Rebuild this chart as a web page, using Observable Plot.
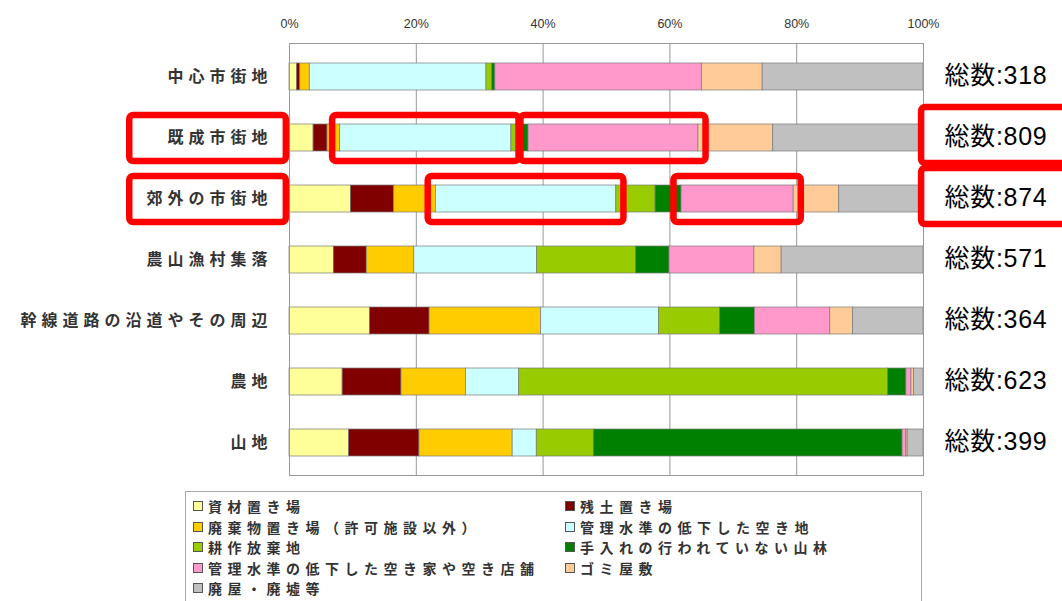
<!DOCTYPE html>
<html><head><meta charset="utf-8">
<script src="https://cdn.jsdelivr.net/npm/d3@7"></script>
<script src="https://cdn.jsdelivr.net/npm/@observablehq/plot@0.6"></script>
<style>
body{margin:0;background:#fff;overflow:hidden;font-family:"Noto Sans CJK JP",sans-serif;}
#wrap{position:relative;width:1062px;height:601px;background:#fff;}
#legend{position:absolute;left:185px;top:491px;width:737px;height:130px;border:1px solid #aaa;box-sizing:border-box;}
.item{position:absolute;font-size:14px;font-weight:bold;color:#333;letter-spacing:5.5px;white-space:nowrap;line-height:16px;height:16px}
.sw{display:inline-block;width:8px;height:8px;border:1px solid #555;margin-right:5px;vertical-align:1px;letter-spacing:0}
</style></head>
<body><div id="wrap"><div id="chart"></div><div id="legend"></div></div>
<script>
const categories = ["中心市街地","既成市街地","郊外の市街地","農山漁村集落","幹線道路の沿道やその周辺","農地","山地"];
const seriesNames = ["資材置き場","残土置き場","廃棄物置き場（許可施設以外）","管理水準の低下した空き地","耕作放棄地","手入れの行われていない山林","管理水準の低下した空き家や空き店舗","ゴミ屋敷","廃屋・廃墟等"];
const seriesColors = ["#FFFF99","#800000","#FFCC00","#CCFFFF","#99CC00","#008000","#FF99CC","#FFCC99","#C0C0C0"];
// percentages per category (same order as categories)
const vShizai   = [1.2, 3.8, 9.7, 7.0, 12.7, 8.4, 9.4];
const vZando    = [0.5, 2.2, 6.8, 5.2, 9.4, 9.3, 11.1];
const vHaiki    = [1.5, 2.0, 6.6, 7.5, 17.6, 10.2, 14.7];
const vAkichi   = [27.9, 27.0, 28.5, 19.4, 18.6, 8.4, 3.8];
const vKousaku  = [0.9, 1.3, 6.2, 15.6, 9.6, 58.3, 9.0];
const vSanrin   = [0.5, 1.4, 4.1, 5.3, 5.5, 2.9, 48.7];
const vAkiya    = [32.6, 26.8, 17.7, 13.4, 11.9, 0.8, 0.6];
const vGomi     = [9.6, 11.8, 7.2, 4.3, 3.6, 0.4, 0.2];
const vHaioku   = [25.4, 23.7, 13.3, 22.4, 11.1, 1.5, 2.5];
const totals = [318, 809, 874, 571, 364, 623, 399];
const tickValues = [0, 0.2, 0.4, 0.6, 0.8, 1];
const highlightCategories = ["既成市街地","郊外の市街地"];
const highlightSeries = ["管理水準の低下した空き地","管理水準の低下した空き家や空き店舗"];

const seriesValues = [vShizai,vZando,vHaiki,vAkichi,vKousaku,vSanrin,vAkiya,vGomi,vHaioku];
const rowSums = categories.map((c,i)=>d3.sum(seriesValues, s=>s[i]));
const rows = [];
categories.forEach((c,i)=>{
  seriesNames.forEach((s,j)=>rows.push({category:c, series:s, value: seriesValues[j][i]/rowSums[i]}));
});
// highlight boxes derived from stacked positions
const pad = 0.012;
const segBoxes = [];
highlightCategories.forEach(c=>{
  const i = categories.indexOf(c);
  let acc = 0;
  seriesNames.forEach((s,j)=>{
    const v = seriesValues[j][i]/rowSums[i];
    if (highlightSeries.includes(s)) segBoxes.push({category:c, x1:acc-pad, x2:acc+v+pad});
    acc += v;
  });
});
const labelBoxes = highlightCategories.map(c=>({category:c, x1:-0.252, x2:-0.005}));
const totalBoxes = highlightCategories.map(c=>({category:c, x1:0.997, x2:1.25}));

const chart = Plot.plot({
  width:1062, height:488,
  marginTop:43, marginBottom:13, marginLeft:289, marginRight:139,
  style:{fontFamily:'"Noto Sans CJK JP", sans-serif', background:"white", overflow:"visible"},
  x:{domain:[0,1], label:null},
  y:{domain:categories, paddingInner:0.56, paddingOuter:0.28, label:null},
  color:{domain:seriesNames, range:seriesColors},
  marks:[
    Plot.gridX(tickValues, {stroke:"#999", strokeOpacity:1}),
    Plot.barX(rows, Plot.stackX({x:"value", y:"category", fill:"series", order:seriesNames, stroke:"#7a7a7a", strokeWidth:0.7})),
    Plot.frame({stroke:"#999"}),
    Plot.axisX({anchor:"top", ticks:tickValues, tickFormat:d3.format(".0%"), tickSize:0, tickPadding:16, fontSize:12.5, fill:"#333", fontFamily:'"Liberation Sans", sans-serif', label:null}),
    Plot.axisY({tickSize:0, tickPadding:17, fontSize:16, fontWeight:"bold", fill:"#333", label:null}),
    Plot.text(totals, {x:()=>1, y:(d,i)=>categories[i], text:d=>"総数:"+d, dx:21, dy:-1, textAnchor:"start", fontSize:25, fill:"#000", fontFamily:'"Liberation Sans", "Noto Sans CJK JP", sans-serif'}),
    Plot.barX(segBoxes, {x1:"x1", x2:"x2", y:"category", fill:"none", stroke:"#FF0000", strokeWidth:6.5, rx:4, insetTop:-9, insetBottom:-10}),
    Plot.barX(labelBoxes, {x1:"x1", x2:"x2", y:"category", fill:"none", stroke:"#FF0000", strokeWidth:6.5, rx:4, insetTop:-9, insetBottom:-10}),
    Plot.barX(totalBoxes, {x1:"x1", x2:"x2", y:"category", fill:"none", stroke:"#FF0000", strokeWidth:6.5, rx:4, insetTop:-17, insetBottom:-12})
  ]
});
document.getElementById("chart").appendChild(chart);
d3.select(chart).selectAll('g[aria-label="y-axis tick label"] text').style("letter-spacing","5px");
d3.select(chart).selectAll('g[aria-label="text"] text').style("letter-spacing","0.7px");

const legend = document.getElementById("legend");
seriesNames.forEach((s,i)=>{
  const col = i%2, row = Math.floor(i/2);
  const el = document.createElement("div");
  el.className = "item";
  el.style.left = (7 + col*372) + "px";
  el.style.top = (6 + row*20.5) + "px";
  const sw = document.createElement("span");
  sw.className = "sw"; sw.style.background = seriesColors[i];
  el.appendChild(sw);
  el.appendChild(document.createTextNode(s));
  legend.appendChild(el);
});
</script></body></html>
